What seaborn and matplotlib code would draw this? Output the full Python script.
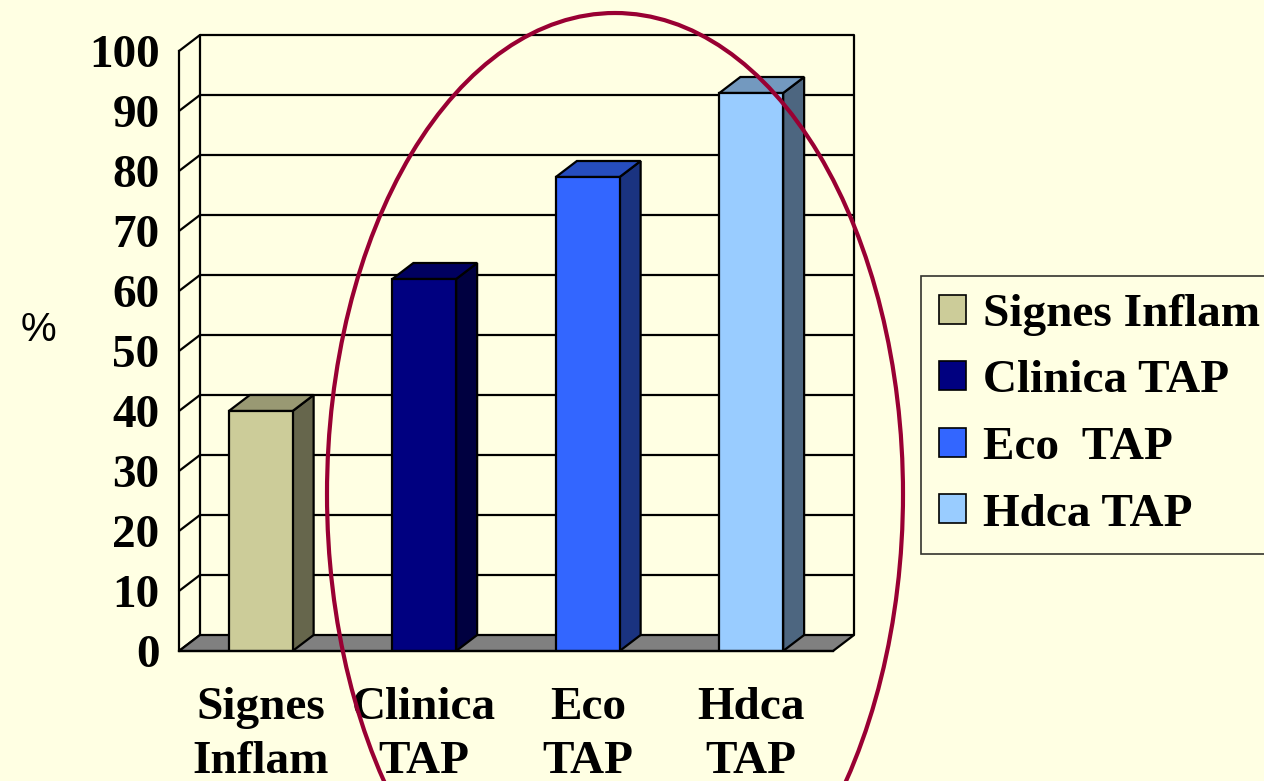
import matplotlib
matplotlib.use("Agg")
import matplotlib.pyplot as plt
import seaborn as sns
from matplotlib.patches import Polygon, Ellipse, Patch

# --- data -------------------------------------------------------------
categories = ["Signes\nInflam", "Clinica\nTAP", "Eco\nTAP", "Hdca\nTAP"]
series_names = ["Signes Inflam", "Clinica TAP", "Eco  TAP", "Hdca TAP"]
values = [40, 62, 79, 93]
y_ticks = list(range(0, 101, 10))
y_label = "%"

# --- style ------------------------------------------------------------
BG = "#FFFFE3"
front_colors = ["#CCCC99", "#000080", "#3366FF", "#99CCFF"]
top_colors = ["#999973", "#000060", "#264DBF", "#7399BF"]
side_colors = ["#66664C", "#000040", "#1A3380", "#4D6680"]
FLOOR = "#808080"
RING = "#990033"
SERIF = ["Liberation Serif", "DejaVu Serif"]
SANS = ["Liberation Sans", "DejaVu Sans"]
FS = 34
LW = 1.6

sns.set_style("white")
plt.rcParams["font.family"] = SERIF
plt.rcParams["text.color"] = "black"
plt.rcParams["axes.labelcolor"] = "black"
plt.rcParams["xtick.color"] = "black"
plt.rcParams["ytick.color"] = "black"

W, H = 1264, 781
fig = plt.figure(figsize=(W / 100, H / 100), dpi=100)
fig.patch.set_facecolor(BG)

# front plane of the 3-D box
x0_px, x1_px, y0_px, y1_px = 179, 833, 651, 51
ax = fig.add_axes([x0_px / W, 1 - y0_px / H, (x1_px - x0_px) / W, (y0_px - y1_px) / H])
ax.patch.set_visible(False)

n = len(categories)
xmin, xmax = -0.5, n - 0.5
ymin, ymax = 0, 100
# depth offset in data units (21 px right, 16 px up)
dx = 21 / (x1_px - x0_px) * (xmax - xmin)
dy = 16 / (y0_px - y1_px) * (ymax - ymin)

# bars (front faces)
sns.barplot(x=categories, y=values, hue=categories, palette=front_colors,
            width=0.39, saturation=1, edgecolor="black", linewidth=LW,
            legend=False, ax=ax, zorder=4)
bars = list(ax.patches)

ax.set_xlim(xmin, xmax)
ax.set_ylim(ymin, ymax)

# back wall and grid
for v in y_ticks[1:]:
    ax.plot([xmin + dx, xmax + dx], [v + dy, v + dy], color="black", lw=LW,
            zorder=1, clip_on=False, solid_capstyle="butt")
for v in y_ticks:
    ax.plot([xmin, xmin + dx], [v, v + dy], color="black", lw=LW,
            zorder=1, clip_on=False)
ax.plot([xmin + dx, xmin + dx], [dy, ymax + dy], color="black", lw=LW, zorder=1, clip_on=False)
ax.plot([xmax + dx, xmax + dx], [dy, ymax + dy], color="black", lw=LW, zorder=1, clip_on=False)

# floor
floor = Polygon([(xmin, 0), (xmax, 0), (xmax + dx, dy), (xmin + dx, dy)], closed=True,
                facecolor=FLOOR, edgecolor="black", lw=LW, zorder=2, clip_on=False)
ax.add_patch(floor)

# 3-D sides and tops of each bar
for i, b in enumerate(bars):
    bx0 = b.get_x()
    bx1 = bx0 + b.get_width()
    h = b.get_height()
    side = Polygon([(bx1, 0), (bx1 + dx, dy), (bx1 + dx, h + dy), (bx1, h)], closed=True,
                   facecolor=side_colors[i], edgecolor="black", lw=LW, zorder=3, clip_on=False)
    top = Polygon([(bx0, h), (bx0 + dx, h + dy), (bx1 + dx, h + dy), (bx1, h)], closed=True,
                  facecolor=top_colors[i], edgecolor="black", lw=LW, zorder=3, clip_on=False,
                  joinstyle="miter")
    ax.add_patch(side)
    ax.add_patch(top)

# axes, ticks and labels
for s in ["top", "right"]:
    ax.spines[s].set_visible(False)
for s in ["left", "bottom"]:
    ax.spines[s].set_linewidth(LW)
    ax.spines[s].set_color("black")
    ax.spines[s].set_zorder(5)

ax.set_yticks(y_ticks)
ax.set_yticklabels([str(v) for v in y_ticks], fontsize=FS, fontweight="bold",
                   family=SERIF, color="black")
ax.tick_params(axis="y", direction="out", length=9, width=LW, pad=5, colors="black")

ax.set_xticks(range(n))
ax.set_xticklabels(categories, fontsize=FS, fontweight="bold", family=SERIF,
                   linespacing=1.36, color="black")
ax.set_xticks([i - 0.5 for i in range(n + 1)], minor=True)
ax.tick_params(axis="x", which="major", length=0, pad=26)
ax.tick_params(axis="x", which="minor", direction="out", length=9, width=LW, colors="black")
ax.set_xlabel("")
ax.set_ylabel("")

fig.text(38 / W, 1 - 330 / H, y_label, fontsize=29, family=SANS, ha="center",
         va="center", color="black")

# legend
handles = [Patch(facecolor=c, edgecolor="black", lw=1.2) for c in front_colors]
leg = fig.legend(handles, series_names, loc="upper left",
                 bbox_to_anchor=(921 / W, 1 - 276 / H),
                 prop={"family": SERIF, "weight": "bold", "size": FS},
                 frameon=True, fancybox=False, shadow=False,
                 handlelength=0.57, handleheight=0.57, handletextpad=0.36,
                 labelspacing=0.52, borderpad=0.38, borderaxespad=0)
for t in leg.get_texts():
    t.set_color("black")
leg.get_frame().set_edgecolor("black")
leg.get_frame().set_linewidth(1.2)
leg.get_frame().set_facecolor(BG)

# highlight ring around the imaging results
ring = Ellipse((6.15, (H - 494) / 100), width=5.76, height=9.62,
               transform=fig.dpi_scale_trans, fill=False,
               edgecolor=RING, lw=3.0, zorder=10)
fig.add_artist(ring)

fig.savefig("out.png", dpi=100, facecolor=BG)
